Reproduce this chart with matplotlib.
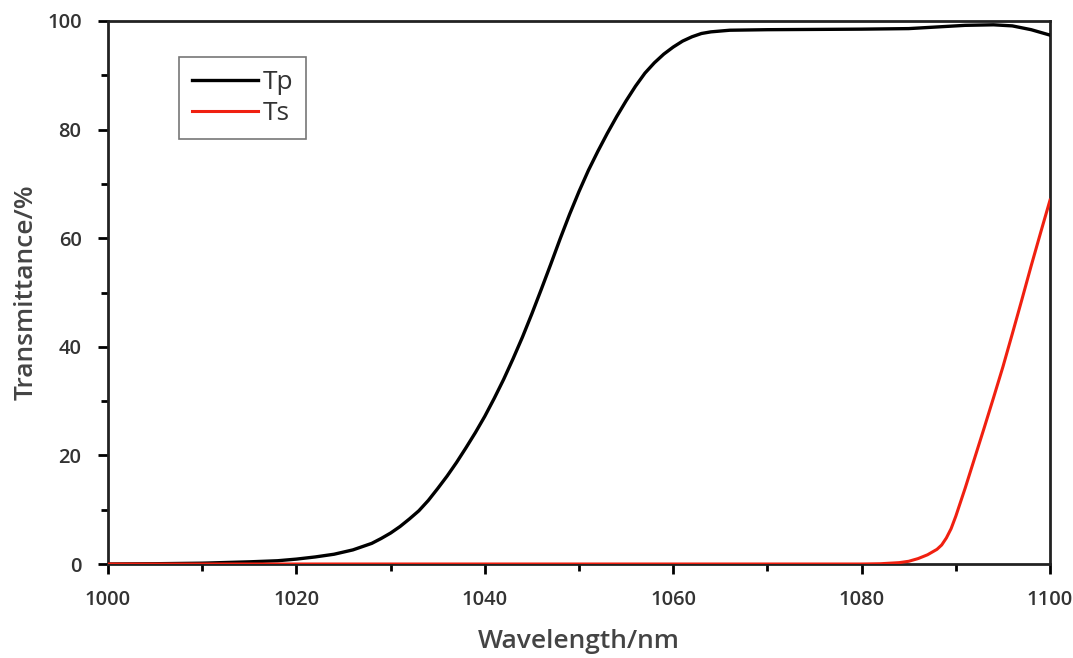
import matplotlib
matplotlib.use("Agg")
import matplotlib.pyplot as plt
from matplotlib.ticker import MultipleLocator

# wavelength (nm) and transmittance (%)
tp_wavelength = [1000, 1005, 1010, 1015, 1018, 1020, 1022, 1024, 1026, 1028,
                 1029, 1030, 1031, 1032, 1033, 1034, 1035, 1036, 1037, 1038,
                 1039, 1040, 1041, 1042, 1043, 1044, 1045, 1046, 1047, 1048,
                 1049, 1050, 1051, 1052, 1053, 1054, 1055, 1056, 1057, 1058,
                 1059, 1060, 1061, 1062, 1063, 1064, 1066, 1070, 1080, 1085,
                 1088, 1091, 1094, 1096, 1098, 1100]
tp_values = [0.0, 0.05, 0.15, 0.4, 0.6, 0.9, 1.3, 1.8, 2.6, 3.8,
             4.7, 5.7, 6.9, 8.3, 9.8, 11.7, 13.9, 16.2, 18.7, 21.4,
             24.2, 27.2, 30.5, 34.0, 37.8, 41.8, 46.1, 50.6, 55.2, 59.9,
             64.4, 68.6, 72.5, 76.0, 79.3, 82.4, 85.3, 88.0, 90.4, 92.3,
             93.9, 95.2, 96.3, 97.1, 97.7, 98.0, 98.3, 98.4, 98.5, 98.6,
             98.9, 99.2, 99.3, 99.1, 98.4, 97.4]

ts_wavelength = [1000, 1080, 1082, 1084, 1085, 1086, 1087, 1088, 1088.5, 1089,
                 1089.5, 1090, 1091, 1092, 1093, 1094, 1095, 1096, 1097, 1098,
                 1099, 1100]
ts_values = [0.0, 0.0, 0.05, 0.25, 0.5, 1.0, 1.7, 2.7, 3.5, 4.8,
             6.5, 8.8, 14.0, 19.5, 25.0, 30.6, 36.3, 42.4, 48.6, 54.9,
             61.0, 67.0]

x_ticks = [1000, 1020, 1040, 1060, 1080, 1100]
y_ticks = [0, 20, 40, 60, 80, 100]

plt.rcParams["font.family"] = ["Open Sans", "DejaVu Sans"]

fig = plt.figure(figsize=(10.73, 6.58), dpi=100)
ax = fig.add_axes([108 / 1073, 1 - 564 / 658, 942 / 1073, 543 / 658])

ax.plot(tp_wavelength, tp_values, color="black", lw=2.4, label="Tp", zorder=3)
ax.plot(ts_wavelength, ts_values, color="#f02010", lw=2.2, label="Ts", zorder=4)

ax.set_xlim(1000, 1100)
ax.set_ylim(0, 100)
ax.set_xticks(x_ticks)
ax.set_yticks(y_ticks)
ax.xaxis.set_minor_locator(MultipleLocator(10))
ax.yaxis.set_minor_locator(MultipleLocator(10))
ax.tick_params(which="major", direction="out", length=7, width=2, labelsize=14.5,
               labelcolor="#333333")
ax.tick_params(which="minor", direction="out", length=5, width=2)
ax.tick_params(axis="x", which="major", pad=11.5)
ax.tick_params(axis="y", which="major", pad=12)
for lbl in ax.get_xticklabels() + ax.get_yticklabels():
    lbl.set_fontweight("semibold")

for spine in ax.spines.values():
    spine.set_linewidth(2)
    spine.set_color("#222222")

ax.set_xlabel("Wavelength/nm", fontsize=19, color="#444444", labelpad=14,
              fontweight="semibold")
ax.set_ylabel("Transmittance/%", fontsize=19, color="#444444", labelpad=6,
              fontweight="semibold")

leg = ax.legend(loc="center", bbox_to_anchor=(0.143, 0.858), fontsize=19,
                frameon=True, fancybox=False, handlelength=2.5,
                handletextpad=0.15, borderpad=0.5, labelspacing=0.2,
                borderaxespad=0)
leg.get_frame().set_edgecolor("#555555")
leg.get_frame().set_linewidth(1.2)
for txt in leg.get_texts():
    txt.set_color("#333333")

fig.savefig("out.png", dpi=100)
